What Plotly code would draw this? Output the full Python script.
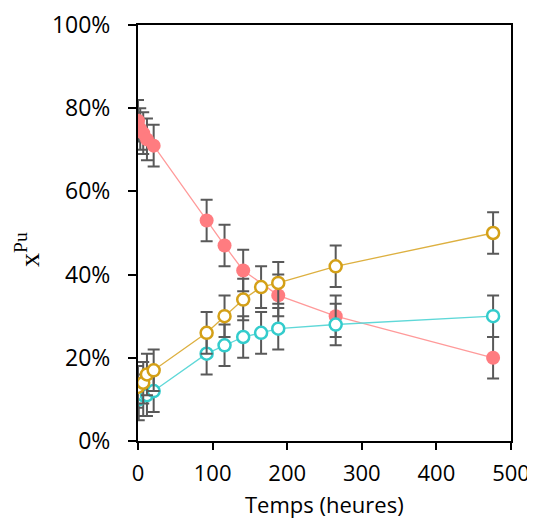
import plotly.graph_objects as go

# Data (time in hours, fraction in %)
t_red = [0, 3, 7, 12, 21, 92, 116, 141, 188, 265, 476]
v_red = [77, 75, 74, 72.5, 71, 53, 47, 41, 35, 30, 20]

t_yel = [0, 7, 12, 21, 92, 116, 141, 165, 188, 265, 476]
v_yel = [13, 14, 16, 17, 26, 30, 34, 37, 38, 42, 50]

t_cya = [1, 7, 12, 21, 92, 116, 141, 165, 188, 265, 476]
v_cya = [10, 11, 11, 12, 21, 23, 25, 26, 27, 28, 30]

err = 5
x_ticks = [0, 100, 200, 300, 400, 500]
y_ticks = [0, 20, 40, 60, 80, 100]
y_labels = ["0%", "20%", "40%", "60%", "80%", "100%"]

EB = dict(type="constant", value=err, color="#595959", thickness=2, width=6)

fig = go.Figure()
fig.add_trace(go.Scatter(
    x=t_red, y=v_red, mode="lines+markers",
    line=dict(color="#FF9A9A", width=1.3),
    marker=dict(size=14, color="#FF7C80", line=dict(width=0)),
    error_y=EB, showlegend=False))
fig.add_trace(go.Scatter(
    x=t_cya, y=v_cya, mode="lines+markers",
    line=dict(color="#5FD8D8", width=1.3),
    marker=dict(size=12, color="white", line=dict(width=2.5, color="#33CCCC")),
    error_y=EB, showlegend=False))
fig.add_trace(go.Scatter(
    x=t_yel, y=v_yel, mode="lines+markers",
    line=dict(color="#DDB040", width=1.3),
    marker=dict(size=12, color="white", line=dict(width=2.5, color="#D4A017")),
    error_y=EB, showlegend=False))

FONT = "Open Sans, Lato, sans-serif"
fig.update_layout(
    width=527, height=511,
    margin=dict(l=130, r=24, t=17, b=78),
    plot_bgcolor="white", paper_bgcolor="white",
    font=dict(family=FONT, size=22, color="#000000"),
    xaxis=dict(range=[0, 500], tickvals=x_ticks, showgrid=False, zeroline=False,
               showline=True, linecolor="black", linewidth=2, mirror=True,
               ticks="outside", ticklen=7, tickwidth=2, tickcolor="black",
               ticklabelstandoff=5,
               automargin=False, tickfont=dict(family=FONT, size=22)),
    yaxis=dict(range=[0, 100], tickvals=y_ticks, ticktext=y_labels, showgrid=False,
               zeroline=False, showline=True, linecolor="black", linewidth=2, mirror=True,
               ticks="outside", ticklen=8, tickwidth=2, tickcolor="black",
               ticklabelstandoff=13,
               automargin=False, tickfont=dict(family=FONT, size=23)),
    annotations=[
        dict(text="Temps (heures)", x=0.5, y=0, xref="paper", yref="paper",
             yshift=-63, yanchor="middle", showarrow=False,
             font=dict(family=FONT, size=22)),
        dict(text="x<sup>Pu</sup>", x=0, y=0.5, xref="paper", yref="paper",
             xanchor="center", yanchor="middle",
             xshift=-111, yshift=-17, textangle=-90, showarrow=False,
             font=dict(family="Liberation Serif, serif", size=28)),
    ],
)
fig.write_html("out.html")
